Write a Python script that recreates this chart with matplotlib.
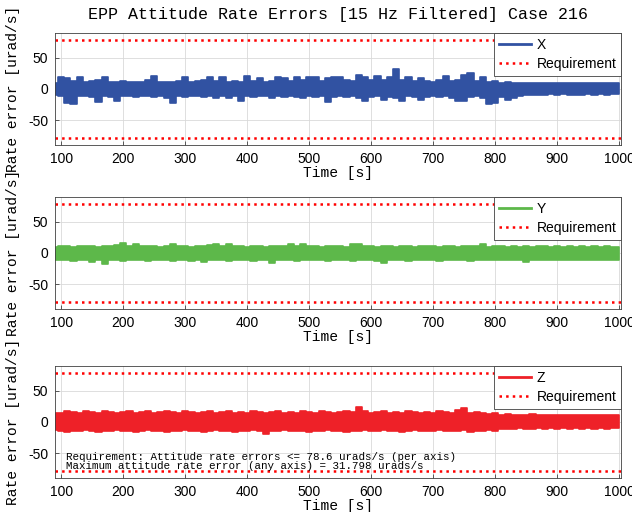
import numpy as np
import matplotlib
matplotlib.use('Agg')
import matplotlib.pyplot as plt
from matplotlib.lines import Line2D

# envelope of the filtered rate errors, read every 10 s [urad/s]
time_s = list(range(90, 1001, 10))

x_hi = [10, 20, 17, 13, 19, 12, 13, 14, 20, 12, 11, 13, 12, 11, 12, 14, 21, 12, 11, 12,
        13, 20, 12, 13, 14, 19, 13, 19, 12, 13, 12, 21, 13, 18, 12, 13, 20, 18, 13, 19,
        14, 20, 19, 13, 17, 20, 19, 14, 13, 22, 19, 14, 21, 14, 20, 31.8, 15, 20, 13, 18,
        13, 12, 14, 21, 13, 15, 22, 25, 13, 19, 12, 13, 10, 11, 10, 10, 9, 10, 9, 10,
        9, 10, 9, 10, 9, 10, 9, 10, 9, 10, 9, 9]
x_lo = [-10, -12, -22, -24, -12, -11, -13, -21, -12, -13, -20, -11, -12, -13, -11, -12, -13, -12, -14, -22,
        -12, -13, -11, -12, -13, -12, -14, -11, -15, -12, -19, -12, -13, -11, -12, -14, -12, -13, -12, -13,
        -14, -12, -13, -12, -21, -13, -12, -13, -12, -14, -19, -13, -12, -18, -13, -14, -19, -12, -13, -18,
        -13, -12, -13, -12, -14, -19, -20, -13, -12, -14, -24, -22, -13, -17, -15, -11, -10, -9, -10, -9,
        -8, -9, -8, -9, -10, -9, -8, -9, -8, -9, -8, -8]

y_hi = [10, 11, 12, 10, 11, 12, 11, 10, 12, 11, 13, 16, 12, 14, 11, 12, 11, 10, 12, 14,
        11, 12, 10, 11, 12, 13, 15, 11, 14, 12, 11, 10, 12, 11, 10, 12, 11, 12, 14, 11,
        15, 12, 11, 10, 11, 12, 11, 10, 14, 15, 12, 11, 10, 11, 12, 10, 11, 12, 10, 11,
        12, 11, 10, 11, 12, 10, 11, 12, 11, 14, 10, 11, 12, 10, 11, 10, 11, 10, 11, 12,
        10, 11, 10, 11, 10, 11, 10, 11, 10, 11, 10, 10]
y_lo = [-11, -12, -11, -13, -12, -11, -15, -12, -17, -11, -12, -13, -11, -12, -11, -13, -12, -11, -12, -13,
        -11, -12, -13, -12, -15, -11, -12, -11, -13, -12, -11, -12, -13, -11, -12, -16, -12, -11, -12, -13,
        -11, -12, -11, -12, -13, -11, -12, -11, -13, -12, -11, -12, -13, -16, -12, -11, -12, -13, -11, -12,
        -11, -12, -13, -12, -11, -12, -11, -13, -12, -11, -12, -11, -12, -11, -12, -11, -15, -12, -11, -12,
        -11, -12, -11, -12, -11, -12, -11, -12, -11, -12, -11, -11]

z_hi = [14, 15, 17, 16, 15, 18, 16, 15, 17, 16, 15, 16, 18, 15, 16, 17, 15, 16, 18, 16,
        15, 17, 16, 15, 16, 18, 15, 16, 17, 15, 16, 15, 17, 16, 15, 16, 17, 15, 16, 15,
        17, 16, 15, 17, 16, 15, 16, 17, 16, 24, 17, 15, 16, 18, 15, 16, 15, 17, 16, 15,
        16, 15, 17, 16, 15, 19, 22, 15, 16, 14, 13, 14, 12, 13, 12, 11, 12, 13, 12, 11,
        12, 11, 12, 11, 12, 11, 12, 11, 12, 11, 11, 11]
z_lo = [-13, -14, -16, -15, -14, -13, -15, -16, -14, -15, -13, -14, -15, -16, -14, -13, -15, -14, -16, -14,
        -15, -13, -14, -15, -16, -14, -13, -15, -14, -16, -15, -14, -13, -15, -20, -14, -15, -13, -14, -15,
        -14, -16, -15, -14, -13, -15, -14, -16, -15, -14, -13, -15, -14, -13, -15, -14, -16, -14, -13, -15,
        -14, -15, -13, -14, -15, -14, -13, -16, -14, -15, -13, -14, -12, -11, -12, -10, -11, -12, -10, -11,
        -10, -11, -10, -11, -10, -11, -10, -11, -10, -11, -10, -10]

requirement = 78.6
max_error = 31.798
axis_names = ['X', 'Y', 'Z']
axis_colors = ['#3152A2', '#5DB84A', '#EE2128']

plt.rcParams['axes.unicode_minus'] = False
mono = 'Liberation Mono'
sans = 'Liberation Sans'

fig = plt.figure(figsize=(6.32, 5.12), dpi=100)
bottoms = [0.7168, 0.3965, 0.0664]
series = [(x_lo, x_hi), (y_lo, y_hi), (z_lo, z_hi)]

for i in range(3):
    ax = fig.add_axes([0.087, bottoms[i], 0.896, 0.2188])
    lo, hi = series[i]
    ax.fill_between(time_s, lo, hi, step='mid', color=axis_colors[i],
                    lw=1.2, edgecolor=axis_colors[i])
    ax.axhline(requirement, color='red', ls=':', lw=1.8)
    ax.axhline(-requirement, color='red', ls=':', lw=1.8)

    ax.set_xlim(90, 1003)
    ax.set_ylim(-90, 90)
    ax.set_xticks(range(100, 1001, 100))
    ax.set_yticks([-50, 0, 50])
    ax.grid(True, color='#d9d9d9', lw=0.6)
    ax.set_axisbelow(True)
    ax.tick_params(direction='in', length=3, width=0.6, color='#404040',
                   labelsize=10, pad=5)
    for lab in ax.get_xticklabels() + ax.get_yticklabels():
        lab.set_fontfamily(sans)
    for sp in ax.spines.values():
        sp.set_color('#404040')
        sp.set_linewidth(0.6)

    ax.set_xlabel('Time [s]', fontfamily=mono, fontsize=10.5, labelpad=0)
    ax.set_ylabel('Rate error [urad/s]', fontfamily=mono, fontsize=10.5)
    ax.yaxis.set_label_coords(-0.062, 0.5)

    handles = [Line2D([], [], color=axis_colors[i], lw=2),
               Line2D([], [], color='red', ls=':', lw=1.8)]
    leg = ax.legend(handles, [axis_names[i], 'Requirement'], loc='upper right',
                    borderaxespad=0, fancybox=False, framealpha=1,
                    edgecolor='#404040', handlelength=2.3, handletextpad=0.4,
                    labelspacing=0.35, borderpad=0.35,
                    prop={'family': sans, 'size': 10})
    leg.get_frame().set_linewidth(0.6)

    if i == 0:
        ax.set_title('EPP Attitude Rate Errors [15 Hz Filtered] Case 216',
                     fontfamily=mono, fontsize=12, pad=10)
    if i == 2:
        ax.text(108, -57, 'Requirement: Attitude rate errors <= %.1f urads/s (per axis)' % requirement,
                fontfamily=mono, fontsize=7.8, va='center')
        ax.text(108, -70, 'Maximum attitude rate error (any axis) = %.3f urads/s' % max_error,
                fontfamily=mono, fontsize=7.8, va='center')

fig.savefig('out.png', dpi=100)
